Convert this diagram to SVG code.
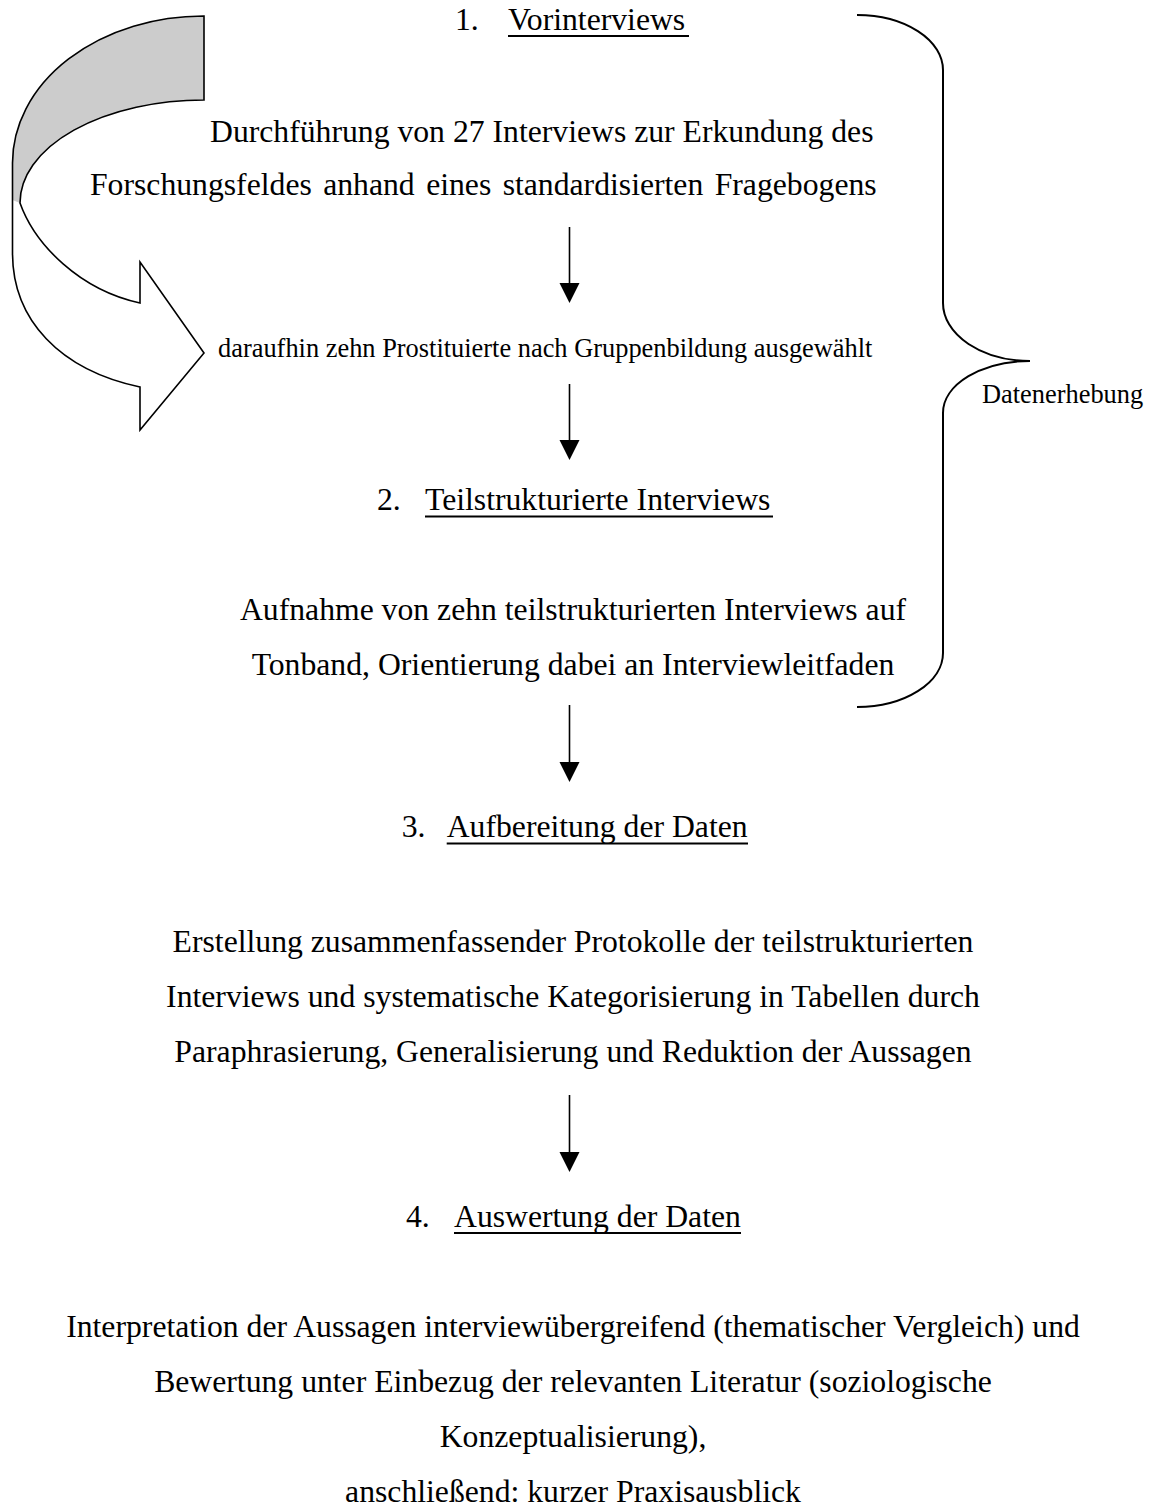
<svg xmlns="http://www.w3.org/2000/svg" width="1157" height="1508" viewBox="0 0 1157 1508">
<style>
text{font-family:"Liberation Serif","Times New Roman",serif;fill:#000}
.m{font-size:31.7px}
.s{font-size:26.4px}
.c{text-anchor:middle}
.ul{stroke:#000;stroke-width:1.8}
.conn line{stroke:#000;stroke-width:1.6}
.conn polygon{fill:#000}
</style>
<rect width="1157" height="1508" fill="#fff"/>

<g id="curved-arrow">
<path d="M204,16 A191,147 0 0 0 12.5,163 L12.5,200 L20,203 A184,103 0 0 1 204,100 Z" fill="#cccccc"/>
<path d="M204,16 A191,147 0 0 0 12.5,163 L12.5,253 C12.5,320 60,370 140,387 L140,430 L204,353 L140,262 L140,303 C80,290 35,245 20,203 A184,103 0 0 1 204,100 Z" fill="none" stroke="#000" stroke-width="1.6" stroke-linejoin="miter"/>
</g>

<g id="brace">
<path d="M857,15 A86,55 0 0 1 943,70 L943,303 A87,58 0 0 0 1030,361 A87,52 0 0 0 943,413 L943,653 A86,54 0 0 1 857,707" fill="none" stroke="#000" stroke-width="2"/>
<line x1="1016" y1="361" x2="1030" y2="361" stroke="#000" stroke-width="2"/>
<text class="s" x="982" y="403">Datenerhebung</text>
</g>

<g id="step1-heading">
<text class="m" x="455" y="30">1.</text>
<text class="m" x="508" y="30">Vorinterviews</text>
<line class="ul" x1="508" y1="36" x2="689" y2="36"/>
</g>

<g id="step1-text">
<text class="m" x="210" y="141.7">Durchführung von 27 Interviews zur Erkundung des</text>
<text class="m" x="90" y="195" word-spacing="3.5">Forschungsfeldes anhand eines standardisierten Fragebogens</text>
</g>

<g id="selection">
<text class="s" x="218" y="357">daraufhin zehn Prostituierte nach Gruppenbildung ausgewählt</text>
</g>

<g id="step2-heading">
<text class="m" x="377" y="510">2.</text>
<text class="m" x="425" y="510">Teilstrukturierte Interviews</text>
<line class="ul" x1="425" y1="516.5" x2="773" y2="516.5"/>
</g>

<g id="step2-text">
<text class="m c" x="573" y="619.5">Aufnahme von zehn teilstrukturierten Interviews auf</text>
<text class="m c" x="573" y="674.5">Tonband, Orientierung dabei an Interviewleitfaden</text>
</g>

<g id="step3-heading">
<text class="m" x="401.7" y="836.7">3.</text>
<text class="m" x="446.7" y="836.7">Aufbereitung der Daten</text>
<line class="ul" x1="446.7" y1="843.5" x2="748" y2="843.5"/>
</g>

<g id="step3-text">
<text class="m c" x="573" y="951.7">Erstellung zusammenfassender Protokolle der teilstrukturierten</text>
<text class="m c" x="573" y="1006.7">Interviews und systematische Kategorisierung in Tabellen durch</text>
<text class="m c" x="573" y="1061.7">Paraphrasierung, Generalisierung und Reduktion der Aussagen</text>
</g>

<g id="step4-heading">
<text class="m" x="406" y="1226.7">4.</text>
<text class="m" x="454" y="1226.7">Auswertung der Daten</text>
<line class="ul" x1="454" y1="1233" x2="741" y2="1233"/>
</g>

<g id="step4-text">
<text class="m c" x="573" y="1336.7">Interpretation der Aussagen interviewübergreifend (thematischer Vergleich) und</text>
<text class="m c" x="573" y="1391.7">Bewertung unter Einbezug der relevanten Literatur (soziologische</text>
<text class="m c" x="573" y="1446.7">Konzeptualisierung),</text>
<text class="m c" x="573" y="1501.7">anschließend: kurzer Praxisausblick</text>
</g>

<g id="connectors" class="conn">
<line x1="569.5" y1="227" x2="569.5" y2="285"/>
<polygon points="559.5,283 579.5,283 569.5,303"/>
<line x1="569.5" y1="384" x2="569.5" y2="442"/>
<polygon points="559.5,440 579.5,440 569.5,460"/>
<line x1="569.5" y1="705" x2="569.5" y2="764"/>
<polygon points="559.5,762 579.5,762 569.5,782"/>
<line x1="569.5" y1="1095" x2="569.5" y2="1154"/>
<polygon points="559.5,1152 579.5,1152 569.5,1172"/>
</g>
</svg>
